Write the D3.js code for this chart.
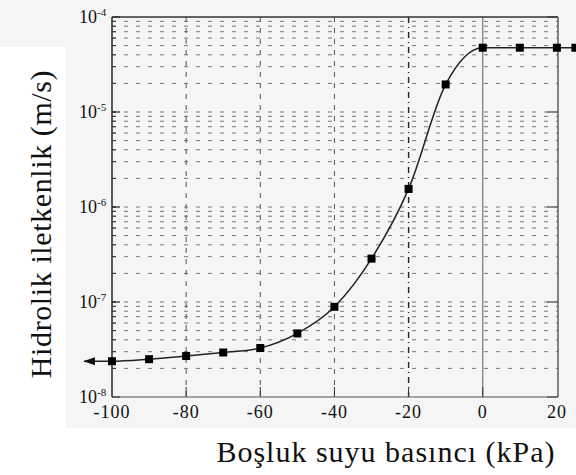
<!DOCTYPE html>
<html>
<head>
<meta charset="utf-8">
<script src="https://cdn.jsdelivr.net/npm/d3@7"></script>
<style>
    body { margin: 0; background: #f5f5f5; }
    svg { display: block; }
</style>
</head>
<body>
<div id="chart"></div>
<script>
// values
const pressure = [-100, -90, -80, -70, -60, -50, -40, -30, -20, -10, 0, 10, 20, 25];
const conductivity = [2.38e-8, 2.5e-8, 2.7e-8, 2.94e-8, 3.28e-8, 4.67e-8, 8.9e-8, 2.86e-7, 1.55e-6, 1.95e-5, 4.75e-5, 4.75e-5, 4.75e-5, 4.75e-5];
const arrowPressure = -107.5;
const xTicks = [-100, -80, -60, -40, -20, 0, 20];
const yExponents = [-4, -5, -6, -7, -8];
const xTitle = 'Boşluk suyu basıncı (kPa)';
const yTitle = 'Hidrolik iletkenlik (m/s)';

const serif = '"Liberation Serif", "Times New Roman", serif';

const width = 576;
const height = 475;
const margin = { top: 17, right: 18, bottom: 78, left: 112 };
const plotW = width - margin.left - margin.right;
const plotH = height - margin.top - margin.bottom;

const svg = d3.select('#chart').append('svg')
    .attr('width', width)
    .attr('height', height);

// scan background: light grey page with white label strips
svg.append('rect').attr('width', width).attr('height', height).attr('fill', '#f5f5f5');
svg.append('rect').attr('x', 0).attr('y', 47).attr('width', 66).attr('height', height - 47).attr('fill', '#fff');
svg.append('rect').attr('x', 0).attr('y', 428).attr('width', width).attr('height', height - 428).attr('fill', '#fff');

const x = d3.scaleLinear().domain([-100, 20.3]).range([margin.left, margin.left + plotW]);
const y = d3.scaleLog().domain([1e-8, 1e-4]).range([margin.top + plotH, margin.top]);

const g = svg.append('g');

// horizontal grid (2..9 in every decade, plus the decade lines)
const gridVals = [];
for (let e = -8; e < -4; e++) {
    for (let m = 1; m <= 9; m++) {
        if (m === 1 && e === -8) continue;
        gridVals.push(m * Math.pow(10, e));
    }
}

g.selectAll('.hgrid')
    .data(gridVals)
    .enter()
    .append('line')
    .attr('x1', margin.left)
    .attr('x2', margin.left + plotW)
    .attr('y1', d => y(d))
    .attr('y2', d => y(d))
    .attr('stroke', '#777')
    .attr('stroke-width', 1)
    .attr('stroke-dasharray', '4,8');

// left minor ticks
g.selectAll('.minortick')
    .data(gridVals)
    .enter()
    .append('line')
    .attr('x1', margin.left)
    .attr('x2', margin.left + 4)
    .attr('y1', d => y(d))
    .attr('y2', d => y(d))
    .attr('stroke', '#333');

// vertical grid
g.selectAll('.vgrid')
    .data(xTicks.filter(d => d > -100 && d < 0))
    .enter()
    .append('line')
    .attr('x1', d => x(d))
    .attr('x2', d => x(d))
    .attr('y1', margin.top)
    .attr('y2', margin.top + plotH)
    .attr('stroke', d => d === -20 ? '#222' : '#555')
    .attr('stroke-width', d => d === -20 ? 1.4 : 1)
    .attr('stroke-dasharray', d => d === -20 ? '6,4,1,4' : '5,6');

g.append('line')
    .attr('x1', x(0)).attr('x2', x(0))
    .attr('y1', margin.top).attr('y2', margin.top + plotH)
    .attr('stroke', '#777')
    .attr('stroke-width', 1.2);

// bottom ticks
g.selectAll('.xtick')
    .data(xTicks.filter(d => d > -100 && d < 20))
    .enter()
    .append('line')
    .attr('x1', d => x(d))
    .attr('x2', d => x(d))
    .attr('y1', margin.top + plotH)
    .attr('y2', margin.top + plotH - 10)
    .attr('stroke', '#333');

// decade ticks left and right
g.selectAll('.ytickL')
    .data(yExponents)
    .enter()
    .append('line')
    .attr('x1', margin.left)
    .attr('x2', margin.left + 8)
    .attr('y1', d => y(Math.pow(10, d)))
    .attr('y2', d => y(Math.pow(10, d)))
    .attr('stroke', '#222')
    .attr('stroke-width', 1.2);

g.selectAll('.ytickR')
    .data(yExponents)
    .enter()
    .append('line')
    .attr('x1', margin.left + plotW)
    .attr('x2', margin.left + plotW - 11)
    .attr('y1', d => y(Math.pow(10, d)))
    .attr('y2', d => y(Math.pow(10, d)))
    .attr('stroke', '#444')
    .attr('stroke-width', 1.2);

// frame
g.append('line').attr('x1', margin.left).attr('x2', margin.left + plotW)
    .attr('y1', margin.top).attr('y2', margin.top).attr('stroke', '#333').attr('stroke-width', 1.4);
g.append('line').attr('x1', margin.left).attr('x2', margin.left + plotW)
    .attr('y1', margin.top + plotH).attr('y2', margin.top + plotH).attr('stroke', '#555').attr('stroke-width', 1.1);
g.append('line').attr('x1', margin.left).attr('x2', margin.left)
    .attr('y1', margin.top).attr('y2', margin.top + plotH).attr('stroke', '#333').attr('stroke-width', 1.6);
g.append('line').attr('x1', margin.left + plotW).attr('x2', margin.left + plotW)
    .attr('y1', margin.top).attr('y2', margin.top + plotH).attr('stroke', '#555').attr('stroke-width', 1.4);

// x tick labels
svg.selectAll('.xlabel')
    .data(xTicks)
    .enter()
    .append('text')
    .attr('x', d => x(d))
    .attr('y', 418)
    .attr('text-anchor', 'middle')
    .attr('fill', '#111')
    .style('font-family', serif)
    .style('font-size', '18px')
    .style('letter-spacing', '1px')
    .text(d => d);

// y tick labels 10^n
svg.selectAll('.ylabel')
    .data(yExponents)
    .enter()
    .append('text')
    .attr('x', 97)
    .attr('y', d => y(Math.pow(10, d)) + 6)
    .attr('text-anchor', 'end')
    .attr('fill', '#111')
    .style('font-family', serif)
    .style('font-size', '18px')
    .text('10');

svg.selectAll('.yexp')
    .data(yExponents)
    .enter()
    .append('text')
    .attr('x', 97)
    .attr('y', d => y(Math.pow(10, d)) - 1)
    .attr('fill', '#111')
    .style('font-family', serif)
    .style('font-size', '11px')
    .text(d => d);

// curve
const points = [[arrowPressure, conductivity[0]]].concat(pressure.map((p, i) => [p, conductivity[i]]));

svg.append('defs').append('marker')
    .attr('id', 'arrow')
    .attr('viewBox', '0 0 12 8')
    .attr('refX', 1)
    .attr('refY', 4)
    .attr('markerWidth', 12)
    .attr('markerHeight', 8)
    .attr('markerUnits', 'userSpaceOnUse')
    .attr('orient', 'auto')
    .append('path')
    .attr('d', 'M12,0 L0,4 L12,8 Z')
    .attr('fill', '#111');

const line = d3.line()
    .x(d => x(d[0]))
    .y(d => y(d[1]))
    .curve(d3.curveMonotoneX);

svg.append('path')
    .datum(points)
    .attr('d', line)
    .attr('fill', 'none')
    .attr('stroke', '#222')
    .attr('stroke-width', 1.5)
    .attr('marker-start', 'url(#arrow)');

svg.selectAll('.pt')
    .data(pressure.map((p, i) => [p, conductivity[i]]))
    .enter()
    .append('rect')
    .attr('x', d => x(d[0]) - 4)
    .attr('y', d => y(d[1]) - 4)
    .attr('width', 8)
    .attr('height', 8)
    .attr('fill', '#000');

// axis titles
svg.append('text')
    .attr('x', 386)
    .attr('y', 462)
    .attr('text-anchor', 'middle')
    .attr('fill', '#111')
    .style('font-family', serif)
    .style('font-size', '30px')
    .style('letter-spacing', '1px')
    .text(xTitle);

svg.append('text')
    .attr('transform', 'translate(51,224) rotate(-90)')
    .attr('text-anchor', 'middle')
    .attr('fill', '#111')
    .style('font-family', serif)
    .style('font-size', '30px')
    .style('letter-spacing', '0.6px')
    .text(yTitle);
</script>
</body>
</html>
